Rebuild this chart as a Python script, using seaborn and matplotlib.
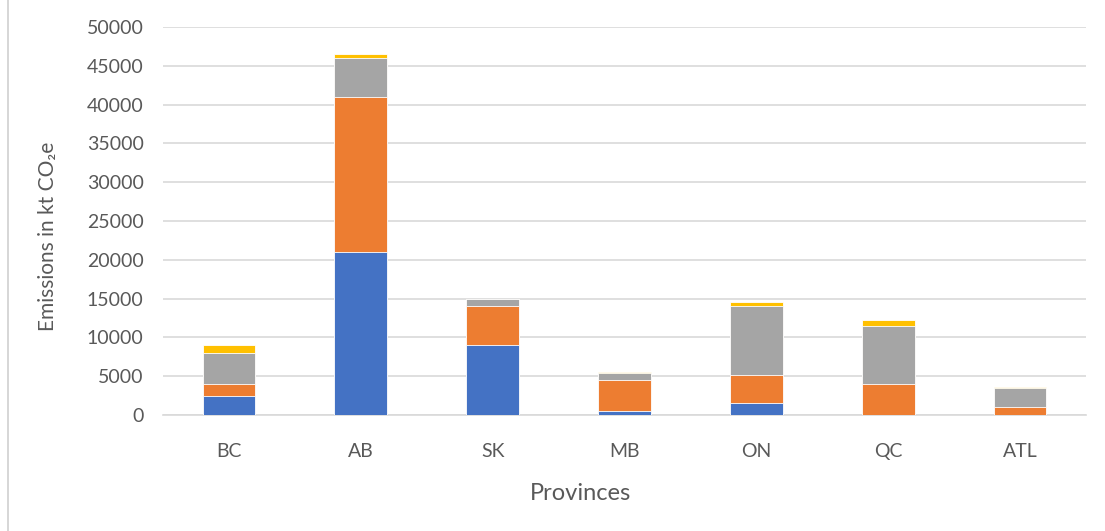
import numpy as np
import pandas as pd
import matplotlib
matplotlib.use("Agg")
import matplotlib.pyplot as plt
from matplotlib.lines import Line2D
import seaborn as sns

# Emissions by province (kt CO2e), four stacked components
provinces = ["BC", "AB", "SK", "MB", "ON", "QC", "ATL"]
series_1 = [2500, 21000, 9000, 500, 1500, 0, 0]
series_2 = [1500, 20000, 5000, 4000, 3600, 4000, 1000]
series_3 = [4000, 5000, 1000, 900, 9000, 7500, 2500]
series_4 = [1000, 500, 0, 150, 400, 800, 150]
y_ticks = list(range(0, 50001, 5000))

colors = ["#4472C4", "#ED7D31", "#A5A5A5", "#FFC000"]
layers = [series_1, series_2, series_3, series_4]

sns.set_theme(style="white")
plt.rcParams["font.family"] = ["Lato", "DejaVu Sans"]

fig = plt.figure(figsize=(11.05, 5.31), dpi=100)
ax = fig.add_axes([0.1475, 0.2185, 0.8353, 0.7305])

# Stack by drawing cumulative totals, tallest first
cum = np.cumsum(np.array(layers), axis=0)
for i in range(len(layers) - 1, -1, -1):
    df = pd.DataFrame({"province": provinces, "total": cum[i]})
    sns.barplot(data=df, x="province", y="total", color=colors[i],
                width=0.4, saturation=1, edgecolor="white", linewidth=0.6,
                ax=ax, zorder=3)

ax.set_ylim(0, 50000)
ax.set_yticks(y_ticks)
ax.set_yticklabels([str(t) for t in y_ticks])
ax.set_xlim(-0.5, len(provinces) - 0.5)
ax.yaxis.grid(True, color="#D9D9D9", linewidth=1.2, zorder=0)
ax.set_axisbelow(True)
for s in ["top", "right", "left"]:
    ax.spines[s].set_visible(False)
ax.spines["bottom"].set_color("#D9D9D9")
ax.spines["bottom"].set_linewidth(1.2)
ax.tick_params(axis="y", length=0, labelsize=14, colors="#595959", pad=14)
ax.tick_params(axis="x", length=0, labelsize=14, colors="#595959", pad=20)

ax.set_xlabel("Provinces", fontsize=17, color="#595959")
ax.xaxis.set_label_coords(0.452, -0.175)
ax.set_ylabel("Emissions in kt CO₂e", fontsize=15, color="#595959")
ax.yaxis.set_label_coords(-0.114, 0.46)

# Thin frame line along the left edge of the figure
fig.add_artist(Line2D([0.0075, 0.0075], [0, 1], transform=fig.transFigure,
                      color="#D0D0D0", linewidth=1.2))

fig.savefig("out.png", dpi=100)
